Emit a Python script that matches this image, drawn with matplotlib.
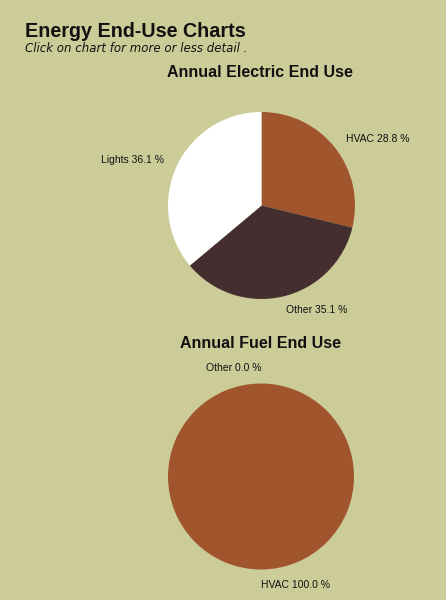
import matplotlib.pyplot as plt

# chart data
elec_labels = ['HVAC', 'Other', 'Lights']
elec_values = [28.8, 35.1, 36.1]
elec_colors = ['#a0552c', '#442e2f', '#ffffff']

fuel_labels = ['HVAC', 'Other']
fuel_values = [100.0, 0.0]
fuel_colors = ['#a0552c', '#442e2f']

W, H = 446, 600
bg = '#cccc99'

plt.rcParams['font.family'] = ['Liberation Sans', 'DejaVu Sans']

fig = plt.figure(figsize=(W / 100, H / 100), dpi=100)
fig.patch.set_facecolor(bg)


def px_axes(cx, cy, r):
    # square axes around a pixel centre (y measured from top)
    return fig.add_axes([(cx - r) / W, 1 - (cy + r) / H, 2 * r / W, 2 * r / H])


def draw_pie(ax, labels, values, colors, dist):
    total = sum(values)
    texts = ['%s %.1f %%' % (l, 100 * v / total) for l, v in zip(labels, values)]
    wedges, lbls = ax.pie(values, labels=texts, colors=colors, startangle=90,
                          counterclock=False, labeldistance=dist,
                          wedgeprops=dict(linewidth=0),
                          textprops=dict(fontsize=7.5, color='#111111'))
    ax.set_xlim(-1, 1)
    ax.set_ylim(-1, 1)
    ax.set_facecolor('none')
    return lbls


fig.text(25 / W, 1 - 37 / H, 'Energy End-Use Charts', fontsize=14.2,
         fontweight='bold', color='#111111', va='baseline')
fig.text(25 / W, 1 - 52 / H, 'Click on chart for more or less detail .',
         fontsize=8.5, style='italic', family='DejaVu Sans', color='#111111',
         va='baseline')

fig.text(260 / W, 1 - 77 / H, 'Annual Electric End Use', fontsize=11.5,
         fontweight='bold', color='#111111', ha='center', va='baseline')
ax1 = px_axes(261.5, 205.5, 93.5)
draw_pie(ax1, elec_labels, elec_values, elec_colors, 1.15)

fig.text(260 / W, 1 - 348 / H, 'Annual Fuel End Use', fontsize=11.5,
         fontweight='bold', color='#111111', ha='center', va='baseline')
ax2 = px_axes(261, 476.5, 93)
fuel_txt = draw_pie(ax2, fuel_labels, fuel_values, fuel_colors, 1.17)
# labels sitting straight above / below the centre: pick the side by hand
fuel_txt[0].set_ha('left')
fuel_txt[1].set_ha('right')

fig.savefig('out.png', dpi=100, facecolor=bg)
